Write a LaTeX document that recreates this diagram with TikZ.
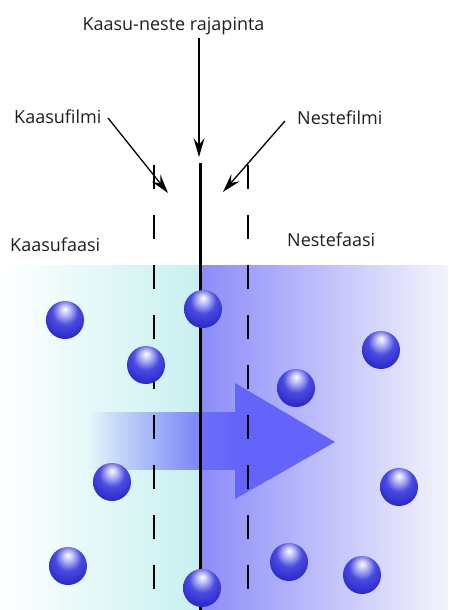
\documentclass[tikz,border=0pt]{standalone}
\usepackage{fontspec}
\setmainfont{Open Sans}
\usetikzlibrary{arrows.meta,fadings}

% glossy sphere: soft highlight near the top, deep blue body
\pgfdeclareradialshading{glossysphere}{\pgfpoint{0bp}{15bp}}{%
  color(0bp)=(white);
  color(7bp)=(rgb,255:red,185;green,185;blue,248);
  color(17bp)=(rgb,255:red,75;green,75;blue,225);
  color(30bp)=(rgb,255:red,45;green,45;blue,205);
  color(45bp)=(rgb,255:red,30;green,30;blue,170);
  color(62bp)=(rgb,255:red,18;green,18;blue,120)}

\tikzfading[name=shaftfade, left color=transparent!100, right color=transparent!0]

\definecolor{gasedge}{RGB}{200,240,240}
\definecolor{liqnear}{RGB}{140,140,250}
\definecolor{liqfar}{RGB}{244,244,252}
\definecolor{flux}{RGB}{100,100,250}
\definecolor{txt}{RGB}{30,30,30}

\tikzset{
  label/.style={font=\fontsize{18}{20}\selectfont, text=txt, inner sep=0pt},
  pointer/.style={line width=1.3pt, -{Stealth[length=19pt,width=11pt,inset=7pt]}},
  film/.style={line width=2pt, dash pattern=on 24pt off 26pt},
  molecule/.style={circle, minimum size=38pt, inner sep=0pt, shading=glossysphere},
}

\begin{document}
\begin{tikzpicture}[x=1pt,y=-1pt]
\useasboundingbox (0,0) rectangle (448,610);

% gas and liquid phases
\shade[left color=white, right color=gasedge] (0,265) rectangle (200,610);
\shade[left color=liqnear, right color=liqfar] (200,265) rectangle (448,610);

% mass transfer arrow
\fill[flux, path fading=shaftfade] (88,412) rectangle (235,470);
\fill[flux] (235,383) -- (335,442) -- (235,499) -- cycle;

% interface and film boundaries
\coordinate (ifTop) at (200,163);
\coordinate (ifBot) at (200,610);
\coordinate (gfTop) at (154,165);
\coordinate (gfBot) at (154,610);
\coordinate (lfTop) at (248,165);
\coordinate (lfBot) at (248,610);
\draw[film] (gfTop) -- (gfBot);
\draw[film] (lfTop) -- (lfBot);
\draw[line width=3pt] (ifTop) -- (ifBot);

% molecules
\node[molecule] (m1) at (65,320) {};
\node[molecule] (m2) at (146,365) {};
\node[molecule] (m3) at (203,309) {};
\node[molecule] (m4) at (381,350) {};
\node[molecule] (m5) at (296,388) {};
\node[molecule] (m6) at (112,482) {};
\node[molecule] (m7) at (399,487) {};
\node[molecule] (m8) at (68,566) {};
\node[molecule] (m9) at (202,588) {};
\node[molecule] (m10) at (289,562) {};
\node[molecule] (m11) at (362,575) {};

% labels
\node[label, anchor=base] (title) at (173.5,31) {Kaasu-neste rajapinta};
\node[label, anchor=base west] (gasfilm) at (14,123) {Kaasufilmi};
\node[label, anchor=base west] (liqfilm) at (297,124) {Nestefilmi};
\node[label, anchor=base west] (gasphase) at (10,251) {Kaasufaasi};
\node[label, anchor=base west] (liqphase) at (287,246) {Nestefaasi};

% pointers
\coordinate (tA) at (199,38);
\coordinate (tB) at (199,157);
\coordinate (gA) at (108,118);
\coordinate (gB) at (168,193);
\coordinate (lA) at (285,121);
\coordinate (lB) at (223,192);
\draw[pointer] (tA) -- (tB);
\draw[pointer] (gA) -- (gB);
\draw[pointer] (lA) -- (lB);
\end{tikzpicture}
\end{document}
